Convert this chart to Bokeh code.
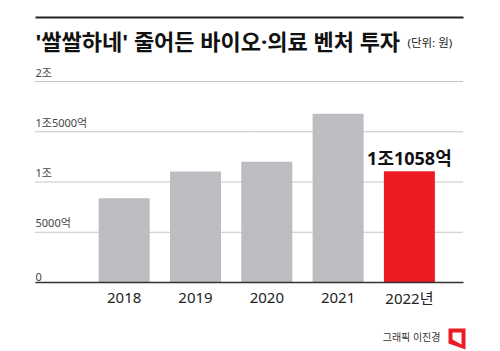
from bokeh.plotting import figure
from bokeh.models import ColumnDataSource
from bokeh.core.properties import value
from bokeh.embed import file_html
from bokeh.resources import INLINE

# ---- data (unit: 억원) ----
years = ["2018", "2019", "2020", "2021", "2022년"]
amounts = [8390, 11040, 12010, 16790, 11058]
bar_colors = ["#bcbdc0", "#bcbdc0", "#bcbdc0", "#bcbdc0", "#ed1c24"]
y_ticks = [0, 5000, 10000, 15000, 20000]
y_tick_labels = ["0", "5000억", "1조", "1조5000억", "2조"]
highlight_label = "1조1058억"
title_text = "'쌀쌀하네' 줄어든 바이오·의료 벤처 투자"
unit_text = "(단위: 원)"
credit_text = "그래픽 이진경"

W, H = 500, 351
# pixel layout -> data mapping
X0, DX = 123.7, 71.3          # center of first bar, bar spacing (px)
Y0, DY = 282.0, 100.5 / 10000  # baseline px, px per 억

def px(x):
    return (x - X0) / DX

def py(y):
    return (Y0 - y) / DY

FONT = "'Noto Sans', 'Noto Sans CJK KR'"

p = figure(width=W, height=H, x_range=(px(0), px(W)), y_range=(py(H), py(0)),
           x_axis_type=None, y_axis_type=None, toolbar_location=None,
           output_backend="svg", min_border=0)
p.outline_line_color = None
p.xgrid.visible = False
p.ygrid.visible = False
p.background_fill_color = "white"
p.border_fill_color = "white"

# gridlines (dotted)
grid_vals = y_ticks[1:]
p.segment(x0=[px(35)] * len(grid_vals), x1=[px(463)] * len(grid_vals),
          y0=grid_vals, y1=grid_vals, line_color="#8a8a8a", line_width=1,
          line_dash="1 1")

# bars
xs = list(range(len(years)))
src = ColumnDataSource(dict(x=xs, top=amounts, color=bar_colors))
p.vbar(x="x", top="top", bottom=0, width=51 / DX, fill_color="color",
       line_color=None, source=src)

# baseline
p.segment(x0=[px(35)], x1=[px(463)], y0=[0], y1=[0], line_color="#333333",
          line_width=1.5)

# y tick labels (above gridlines, left aligned)
p.text(x=[px(35)] * len(y_ticks), y=y_ticks, text=y_tick_labels,
       text_font=value(FONT), text_font_size="11px", text_color="#444444",
       text_align="left", text_baseline="bottom", y_offset=-2)

# x labels
p.text(x=xs, y=[0] * len(xs), text=years, text_font=value(FONT),
       text_font_size="15px", text_color="#222222", text_align="center",
       text_baseline="middle", y_offset=15)

# highlight value label
p.text(x=[xs[-1]], y=[amounts[-1]], text=[highlight_label],
       text_font=value(FONT), text_font_size="18px", text_font_style="bold",
       text_color="#111111", text_align="center", text_baseline="bottom",
       y_offset=-1)

# title rule
p.segment(x0=[px(35)], x1=[px(463)], y0=[py(17)], y1=[py(17)],
          line_color="#222222", line_width=2)
p.text(x=[px(35)], y=[py(40)], text=[title_text], text_font=value(FONT),
       text_font_size="22px", text_font_style="bold", text_color="#111111",
       text_align="left", text_baseline="middle")
p.text(x=[px(407)], y=[py(42)], text=[unit_text], text_font=value(FONT),
       text_font_size="11.5px", text_color="#222222", text_align="left",
       text_baseline="middle")

# credit + logo
p.text(x=[px(440)], y=[py(336)], text=[credit_text], text_font=value(FONT),
       text_font_size="10px", text_color="#333333", text_align="right",
       text_baseline="middle")
outer_x = [px(448), px(465), px(465), px(448)]
outer_y = [py(328), py(328), py(349), py(343)]
inner_x = [px(452), px(461), px(461), px(452)]
inner_y = [py(332), py(332), py(344), py(339)]
p.patch(outer_x, outer_y, fill_color="#ed1c24", line_color=None)
p.patch(inner_x, inner_y, fill_color="white", line_color=None)

open("out.html", "w").write(file_html(p, INLINE))
